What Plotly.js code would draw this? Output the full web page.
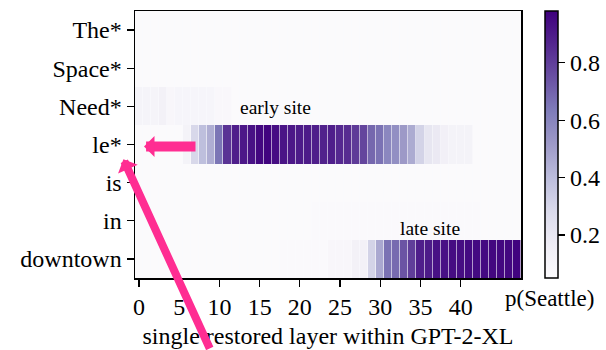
<!DOCTYPE html>
<html>
<head>
<meta charset="utf-8">
<script src="https://cdn.plot.ly/plotly-3.0.1.min.js"></script>
<style>html,body{margin:0;padding:0;background:#fff;}#chart{width:606px;height:350px;}</style>
</head>
<body>
<div id="chart"></div>
<script>
// Tokens (rows, top to bottom)
const tokens = ["The*", "Space*", "Need*", "le*", "is", "in", "downtown"];
// Restored layer index (GPT-2-XL has 48 layers)
const layers = [0,1,2,3,4,5,6,7,8,9,10,11,12,13,14,15,16,17,18,19,20,21,22,23,
                24,25,26,27,28,29,30,31,32,33,34,35,36,37,38,39,40,41,42,43,44,45,46,47];
const xTickVals = [0,5,10,15,20,25,30,35,40];
const cbTickVals = [0.2,0.4,0.6,0.8];

// p(Seattle) per row, per restored layer
const pThe = [0.06,0.06,0.06,0.06,0.06,0.06,0.06,0.06,0.06,0.06,0.06,0.06,0.06,0.06,0.06,0.06,
              0.06,0.06,0.06,0.06,0.06,0.06,0.06,0.06,0.06,0.06,0.06,0.06,0.06,0.06,0.06,0.06,
              0.06,0.06,0.06,0.06,0.06,0.06,0.06,0.06,0.06,0.06,0.06,0.06,0.06,0.06,0.06,0.06];
const pSpace = [0.06,0.06,0.06,0.06,0.06,0.06,0.06,0.06,0.06,0.06,0.06,0.06,0.06,0.06,0.06,0.06,
                0.06,0.06,0.06,0.06,0.06,0.06,0.06,0.06,0.06,0.06,0.06,0.06,0.06,0.06,0.06,0.06,
                0.06,0.06,0.06,0.06,0.06,0.06,0.06,0.06,0.06,0.06,0.06,0.06,0.06,0.06,0.06,0.06];
const pNeed = [0.11,0.11,0.11,0.13,0.09,0.10,0.10,0.10,0.10,0.10,0.08,0.08,0.06,0.06,0.06,0.06,
               0.06,0.06,0.06,0.06,0.06,0.06,0.06,0.06,0.06,0.06,0.06,0.06,0.06,0.06,0.06,0.06,
               0.06,0.06,0.06,0.06,0.06,0.06,0.06,0.06,0.06,0.06,0.06,0.06,0.06,0.06,0.06,0.06];
const pLe = [0.06,0.06,0.06,0.06,0.06,0.06,0.12,0.29,0.39,0.45,0.65,0.83,0.89,0.91,0.93,0.96,
             0.97,0.94,0.92,0.91,0.90,0.90,0.89,0.88,0.89,0.86,0.85,0.81,0.78,0.69,0.66,0.59,
             0.56,0.52,0.46,0.31,0.21,0.19,0.14,0.12,0.12,0.12,0.06,0.06,0.06,0.06,0.06,0.06];
const pIs = [0.06,0.06,0.06,0.06,0.06,0.06,0.06,0.06,0.06,0.06,0.06,0.06,0.06,0.06,0.06,0.06,
             0.06,0.06,0.06,0.06,0.06,0.06,0.06,0.06,0.06,0.06,0.06,0.06,0.06,0.06,0.06,0.06,
             0.06,0.06,0.06,0.06,0.06,0.06,0.06,0.06,0.06,0.06,0.06,0.06,0.06,0.06,0.06,0.06];
const pIn = [0.06,0.06,0.06,0.06,0.06,0.06,0.06,0.06,0.06,0.06,0.06,0.06,0.06,0.06,0.06,0.06,
             0.06,0.06,0.06,0.06,0.06,0.06,0.07,0.07,0.07,0.07,0.07,0.07,0.07,0.065,0.065,0.065,
             0.065,0.065,0.065,0.065,0.065,0.065,0.065,0.065,0.065,0.065,0.065,0.06,0.06,0.06,0.06,0.06];
const pDowntown = [0.06,0.06,0.06,0.06,0.06,0.06,0.06,0.06,0.06,0.06,0.06,0.06,0.06,0.06,0.06,0.06,
                   0.06,0.06,0.07,0.07,0.07,0.07,0.07,0.07,0.09,0.09,0.09,0.13,0.13,0.31,0.47,0.66,
                   0.68,0.74,0.80,0.89,0.90,0.93,0.93,0.94,0.94,0.95,0.95,0.95,0.96,0.96,0.96,0.97];

const purples = [[0,'#fcfbfd'],[0.125,'#efedf5'],[0.25,'#dadaeb'],[0.375,'#bcbddc'],[0.5,'#9e9ac8'],
                 [0.625,'#807dba'],[0.75,'#6a51a3'],[0.875,'#54278f'],[1,'#3f007d']];

const serif = '"Liberation Serif", "Times New Roman", Times, serif';
const pink = '#ff2d92';

const trace = {
  type: 'heatmap',
  x: layers,
  y: tokens,
  z: [pThe, pSpace, pNeed, pLe, pIs, pIn, pDowntown],
  zmin: 0.05, zmax: 0.98,
  colorscale: purples,
  xgap: 0.6,
  hoverinfo: 'skip',
  colorbar: {
    x: 1.062, xanchor: 'left', xpad: 0, ypad: 0,
    y: 0.5, yanchor: 'middle', len: 1, lenmode: 'fraction',
    thickness: 13, outlinewidth: 1.5, outlinecolor: '#000',
    tickvals: cbTickVals, ticktext: cbTickVals.map(String),
    ticks: 'outside', ticklen: 7, tickwidth: 1.2, tickcolor: '#000',
    tickfont: {family: serif, size: 24, color: '#000'}
  }
};

const layout = {
  width: 606, height: 350,
  margin: {l: 135, r: 85, t: 11, b: 72, pad: 0, autoexpand: false},
  paper_bgcolor: '#fff', plot_bgcolor: '#fbfbfd',
  font: {family: serif, size: 24, color: '#000'},
  xaxis: {
    range: [-0.5, 47.5], tickvals: xTickVals, ticktext: xTickVals.map(String),
    ticks: 'outside', ticklen: 7, tickwidth: 1.2, tickcolor: '#000',
    showline: true, linecolor: '#000', linewidth: 1.5, mirror: true,
    showgrid: false, zeroline: false,
    tickfont: {family: serif, size: 24, color: '#000'},
    title: {text: 'single restored layer within GPT-2-XL', font: {family: serif, size: 24, color: '#000'}, standoff: 8}
  },
  yaxis: {
    autorange: 'reversed', type: 'category',
    ticks: 'outside', ticklen: 7, tickwidth: 1.2, tickcolor: '#000',
    showline: true, linecolor: '#000', linewidth: 1.5, mirror: true,
    showgrid: false, zeroline: false,
    tickfont: {family: serif, size: 24, color: '#000'}
  },
  annotations: [
    {xref: 'paper', yref: 'paper', x: 0.363, y: 0.64, text: 'early site', showarrow: false,
     font: {family: serif, size: 19.5, color: '#000'}, xanchor: 'center', yanchor: 'middle'},
    {xref: 'paper', yref: 'paper', x: 0.764, y: 0.187, text: 'late site', showarrow: false,
     font: {family: serif, size: 19.5, color: '#000'}, xanchor: 'center', yanchor: 'middle'},
    {xref: 'paper', yref: 'paper', x: 1.075, y: -0.075, text: 'p(Seattle)', showarrow: false,
     font: {family: serif, size: 23, color: '#000'}, xanchor: 'center', yanchor: 'middle'},
    {xref: 'paper', yref: 'paper', x: 0.0233, y: 0.4925, text: '', showarrow: true,
     ax: 53, ay: 0, arrowhead: 1, arrowsize: 0.35, arrowwidth: 10, arrowcolor: pink, standoff: 0},
    {xref: 'paper', yref: 'paper', x: -0.03, y: 0.4446, text: '', showarrow: true,
     ax: 87, ay: 192, arrowhead: 1, arrowsize: 0.45, arrowwidth: 8, arrowcolor: pink, standoff: 0}
  ]
};

Plotly.newPlot('chart', [trace], layout, {displayModeBar: false, staticPlot: true});
</script>
</body>
</html>
